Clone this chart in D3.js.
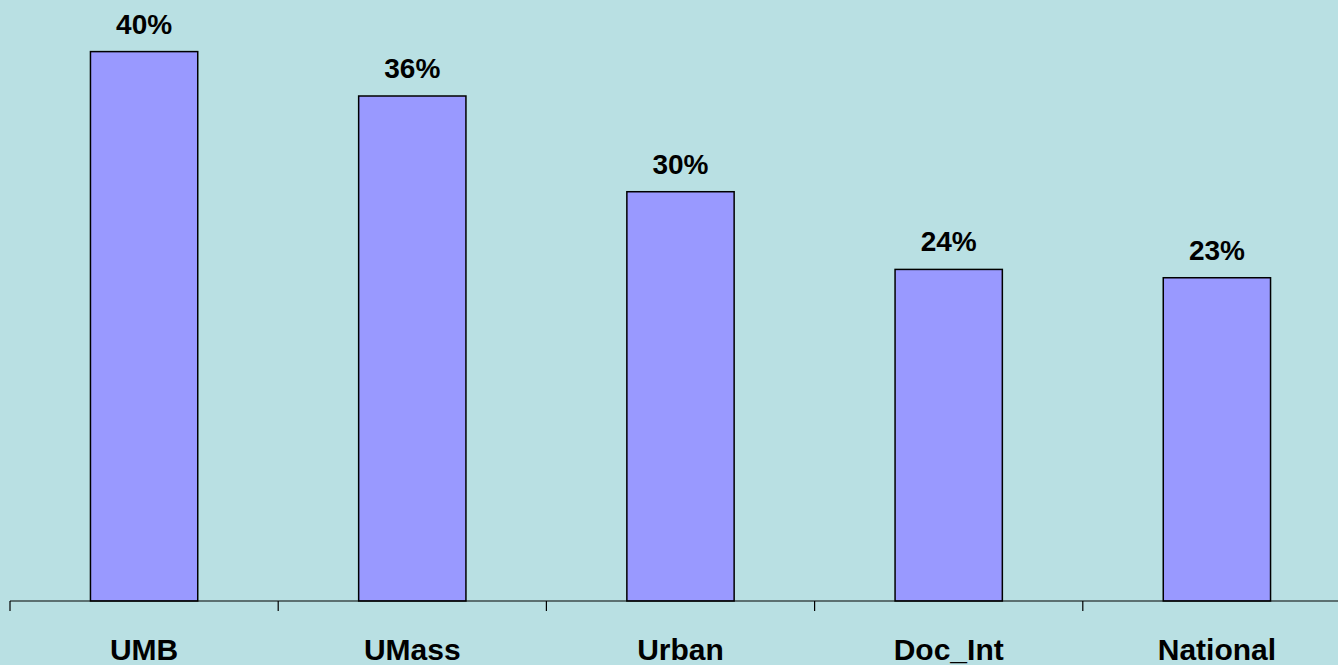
<!DOCTYPE html>
<meta charset="utf-8">
<style>
    body { margin: 0; background: #b9e0e3; }
    svg { display: block; }
    .lbl { font: bold 28px "Liberation Sans", Arial, sans-serif; text-anchor: middle; }
    .cat { font: bold 30px "Liberation Sans", Arial, sans-serif; text-anchor: middle; }
</style>
<svg width="1338" height="665"></svg>
<script src="https://d3js.org/d3.v7.min.js"></script>
<script>
    var categories = ["UMB", "UMass", "Urban", "Doc_Int", "National"];
    var values = [39.6, 36.4, 29.5, 23.9, 23.3];
    var valueLabels = ["40%", "36%", "30%", "24%", "23%"];

    var svg = d3.select("svg"),
        width = +svg.attr("width"),
        height = +svg.attr("height");

    svg.append("rect").attr("width", width).attr("height", height).attr("fill", "#b9e0e3");

    var baseY = 601;

    var x = d3.scaleBand()
        .domain(categories)
        .range([10, 1351])
        .paddingInner(0.6)
        .paddingOuter(0.3);

    var y = d3.scaleLinear()
        .domain([0, 36.4])
        .range([baseY, 96]);

    // bars
    svg.selectAll(".bar")
        .data(values)
        .enter().append("rect")
        .attr("class", "bar")
        .attr("x", function(d, i) { return x(categories[i]); })
        .attr("y", function(d) { return y(d); })
        .attr("width", x.bandwidth())
        .attr("height", function(d) { return baseY - y(d); })
        .attr("fill", "#9999ff")
        .attr("stroke", "#000")
        .attr("stroke-width", 1.5);

    // value labels
    svg.selectAll(".lbl")
        .data(values)
        .enter().append("text")
        .attr("class", "lbl")
        .attr("x", function(d, i) { return x(categories[i]) + x.bandwidth() / 2; })
        .attr("y", function(d) { return y(d) - 18; })
        .text(function(d, i) { return valueLabels[i]; });

    // x axis
    var step = x.step();
    svg.append("line")
        .attr("x1", 10).attr("x2", width)
        .attr("y1", baseY).attr("y2", baseY)
        .attr("stroke", "#000").attr("stroke-width", 1.2);

    svg.selectAll(".tick")
        .data(d3.range(categories.length + 1))
        .enter().append("line")
        .attr("class", "tick")
        .attr("x1", function(i) { return 10 + i * step; })
        .attr("x2", function(i) { return 10 + i * step; })
        .attr("y1", baseY).attr("y2", baseY + 10)
        .attr("stroke", "#000").attr("stroke-width", 1.2);

    svg.selectAll(".cat")
        .data(categories)
        .enter().append("text")
        .attr("class", "cat")
        .attr("x", function(d) { return x(d) + x.bandwidth() / 2; })
        .attr("y", 660)
        .text(function(d) { return d; });
</script>
